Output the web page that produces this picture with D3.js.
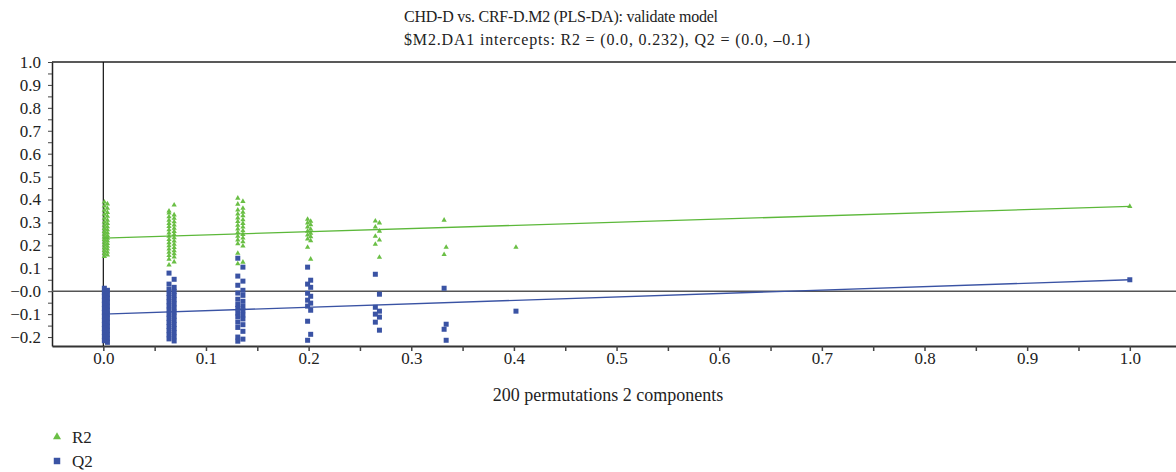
<!DOCTYPE html>
<html>
<head>
<meta charset="utf-8">
<script src="https://cdn.jsdelivr.net/npm/d3@7"></script>
<style>
  body { margin: 0; background: #fff; }
  svg { display: block; font-family: "Liberation Serif", "DejaVu Serif", serif; }
</style>
</head>
<body>
<svg id="chart" width="1176" height="472"></svg>
<script>
// permutation positions (correlation with original y), two sub-columns each
const permX = [[0.001, 0.004], [0.064, 0.069], [0.131, 0.136], [0.199, 0.202], [0.265, 0.269], [0.332, 0.334], [0.402, 0.402], [1.0, 1.0]];

// R2 values of the permuted models, one list per column
const r2Values = [
  [0.389, 0.381, 0.372, 0.362, 0.353, 0.344, 0.336, 0.327, 0.318, 0.31, 0.302, 0.295, 0.288, 0.281, 0.274, 0.268, 0.261, 0.255, 0.249, 0.243, 0.237, 0.231, 0.226, 0.22, 0.214, 0.208, 0.202, 0.196, 0.19, 0.184, 0.178, 0.171, 0.165, 0.158, 0.152],
  [0.35, 0.376, 0.341, 0.333, 0.325, 0.318, 0.31, 0.303, 0.296, 0.289, 0.282, 0.275, 0.268, 0.261, 0.254, 0.247, 0.24, 0.233, 0.226, 0.219, 0.212, 0.205, 0.198, 0.191, 0.184, 0.177, 0.17, 0.163, 0.156, 0.149, 0.14, 0.128, 0.114],
  [0.406, 0.392, 0.38, 0.362, 0.354, 0.345, 0.337, 0.329, 0.32, 0.312, 0.304, 0.296, 0.288, 0.28, 0.272, 0.264, 0.256, 0.248, 0.24, 0.232, 0.224, 0.216, 0.207, 0.197, 0.166, 0.127, 0.12],
  [0.314, 0.305, 0.298, 0.29, 0.28, 0.27, 0.262, 0.253, 0.245, 0.238, 0.228, 0.22, 0.192, 0.14],
  [0.306, 0.298, 0.28, 0.262, 0.24, 0.223, 0.205, 0.148],
  [0.31, 0.192, 0.16],
  [0.192],
  [0.37]
];

// Q2 values of the permuted models
const q2Values = [
  [0.013, 0.004, -0.005, -0.014, -0.022, -0.031, -0.04, -0.048, -0.057, -0.066, -0.075, -0.083, -0.092, -0.1, -0.109, -0.118, -0.127, -0.136, -0.145, -0.153, -0.162, -0.171, -0.18, -0.189, -0.198, -0.207, -0.216, -0.223],
  [0.079, 0.052, 0.031, 0.017, 0.008, -0.001, -0.01, -0.019, -0.028, -0.037, -0.046, -0.055, -0.064, -0.073, -0.082, -0.091, -0.1, -0.109, -0.118, -0.127, -0.136, -0.145, -0.154, -0.163, -0.172, -0.181, -0.19, -0.199, -0.208, -0.217],
  [0.144, 0.105, 0.066, 0.044, 0.026, 0.004, -0.008, -0.018, -0.035, -0.044, -0.058, -0.066, -0.075, -0.085, -0.095, -0.104, -0.112, -0.121, -0.135, -0.146, -0.158, -0.175, -0.2, -0.209, -0.218],
  [0.105, 0.048, 0.031, 0.017, -0.009, -0.022, -0.039, -0.052, -0.065, -0.083, -0.131, -0.188, -0.214],
  [0.074, -0.013, -0.07, -0.087, -0.1, -0.113, -0.135, -0.17],
  [0.013, -0.144, -0.166, -0.214],
  [-0.087],
  [0.05]
];

// regression lines through the intercepts
const r2Line = [[0, 0.232], [1, 0.37]];
const q2Line = [[0, -0.1], [1, 0.05]];

const titleLines = ["CHD-D vs. CRF-D.M2 (PLS-DA): validate model",
                    "$M2.DA1 intercepts: R2 = (0.0, 0.232), Q2 = (0.0, \u20130.1)"];
const titleWidths = [314, 406];

const green = "#6abf45", greenLine = "#5cb83a", blue = "#3a53a4";

const svg = d3.select("#chart");
const plotLeft = 52, plotRight = 1176, plotTop = 62, plotBottom = 346;

const x = d3.scaleLinear().domain([-0.05, 1.045]).range([plotLeft, plotRight]);
const y = d3.scaleLinear().domain([-0.239, 1.0]).range([plotBottom, plotTop]);

// flatten to points
const r2Pts = [], q2Pts = [];
r2Values.forEach((vals, c) => vals.forEach((v, i) => r2Pts.push([permX[c][i % 2], v])));
q2Values.forEach((vals, c) => vals.forEach((v, i) => q2Pts.push([permX[c][i % 2], v])));

// title
svg.append("g").selectAll("text")
  .data(titleLines)
  .enter().append("text")
  .attr("x", 404)
  .attr("y", (d, i) => 22 + i * 23)
  .attr("font-size", "16px")
  .attr("textLength", (d, i) => titleWidths[i])
  .attr("lengthAdjust", "spacing")
  .attr("fill", "#222")
  .text(d => d);

// x axis: ticks every 0.05, labels every 0.1
const xAxis = svg.append("g")
  .attr("transform", `translate(0,${plotBottom})`)
  .call(d3.axisBottom(x).tickValues(d3.range(0, 21).map(i => i * 0.05)).tickSize(5).tickSizeOuter(0)
    .tickFormat(d => Math.round(d * 100) % 10 === 0 ? d3.format(".1f")(d) : ""));
xAxis.select(".domain").attr("stroke", "#333").attr("stroke-width", 2);
xAxis.selectAll(".tick line").attr("stroke", "#444").attr("stroke-width", 1.5);
xAxis.selectAll(".tick text")
  .attr("font-family", "Liberation Serif, serif")
  .attr("font-size", "17px")
  .attr("fill", "#222")
  .attr("dy", "0.6em");

// y axis
const yAxis = svg.append("g")
  .attr("transform", `translate(${plotLeft},0)`)
  .call(d3.axisLeft(y).tickValues(d3.range(-4, 21).map(i => i * 0.05)).tickSize(4).tickSizeOuter(0)
    .tickFormat(d => {
      const k = Math.round(d * 100);
      if (k % 10 !== 0) return "";
      if (k === 0) return "\u22120.0";
      return d < 0 ? "\u2212" + d3.format(".1f")(-d) : d3.format(".1f")(d);
    }));
yAxis.select(".domain").attr("stroke", "#222").attr("stroke-width", 1.5);
yAxis.selectAll(".tick line").attr("stroke", "#444");
yAxis.selectAll(".tick text")
  .attr("font-family", "Liberation Serif, serif")
  .attr("font-size", "17px")
  .attr("fill", "#222")
  .attr("x", -11);

// frame top
svg.append("line")
  .attr("x1", plotLeft).attr("x2", plotRight)
  .attr("y1", plotTop).attr("y2", plotTop)
  .attr("stroke", "#222").attr("stroke-width", 1.5);

// zero lines
svg.append("line")
  .attr("x1", plotLeft).attr("x2", plotRight)
  .attr("y1", y(0)).attr("y2", y(0))
  .attr("stroke", "#555").attr("stroke-width", 1.5);
svg.append("line")
  .attr("x1", x(0)).attr("x2", x(0))
  .attr("y1", plotTop).attr("y2", plotBottom)
  .attr("stroke", "#111").attr("stroke-width", 1.2);

// points
const tri = d3.symbol().type(d3.symbolTriangle).size(12);
const sq = d3.symbol().type(d3.symbolSquare).size(25);

svg.append("g").selectAll("path")
  .data(r2Pts)
  .enter().append("path")
  .attr("d", tri)
  .attr("transform", d => `translate(${x(d[0])},${y(d[1])})`)
  .attr("fill", green);

svg.append("g").selectAll("path")
  .data(q2Pts)
  .enter().append("path")
  .attr("d", sq)
  .attr("transform", d => `translate(${x(d[0])},${y(d[1])})`)
  .attr("fill", blue);

// regression lines
const line = d3.line().x(d => x(d[0])).y(d => y(d[1]));
svg.append("path").datum(r2Line).attr("d", line)
  .attr("fill", "none").attr("stroke", greenLine).attr("stroke-width", 1.3);
svg.append("path").datum(q2Line).attr("d", line)
  .attr("fill", "none").attr("stroke", blue).attr("stroke-width", 1.3);

// axis title
svg.append("text")
  .attr("x", 608)
  .attr("y", 401)
  .attr("text-anchor", "middle")
  .attr("font-size", "18px")
  .attr("fill", "#222")
  .text("200 permutations 2 components");

// legend
const legendData = [
  { label: "R2", sym: d3.symbol().type(d3.symbolTriangle).size(28), color: green },
  { label: "Q2", sym: d3.symbol().type(d3.symbolSquare).size(42), color: blue }
];
const legend = svg.append("g").attr("transform", "translate(57,437)");
legend.selectAll("path")
  .data(legendData)
  .enter().append("path")
  .attr("d", d => d.sym())
  .attr("transform", (d, i) => `translate(0,${i * 24})`)
  .attr("fill", d => d.color);
legend.selectAll("text")
  .data(legendData)
  .enter().append("text")
  .attr("x", 15)
  .attr("y", (d, i) => i * 24 + 6)
  .attr("font-size", "17px")
  .attr("fill", "#222")
  .text(d => d.label);
</script>
</body>
</html>
